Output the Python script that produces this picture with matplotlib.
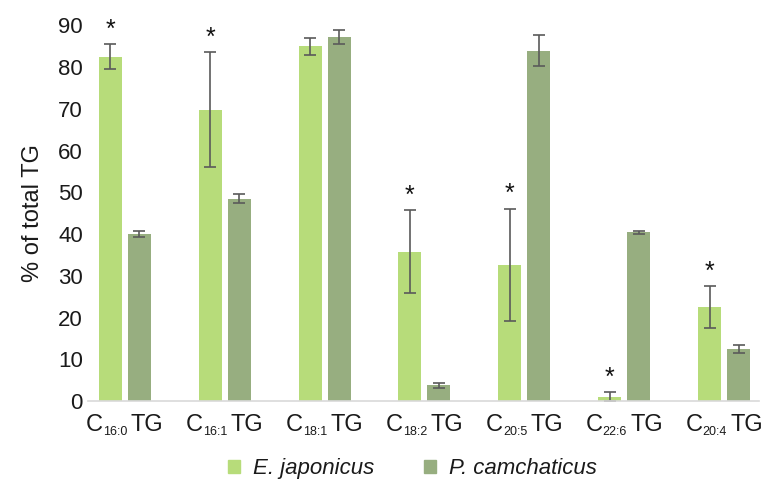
import numpy as np
import matplotlib
matplotlib.use("Agg")
import matplotlib.pyplot as plt
import matplotlib.transforms as mtransforms
from matplotlib.patches import Patch

plt.rcParams['font.family'] = ['Liberation Sans', 'DejaVu Sans']

groups = ['16:0', '16:1', '18:1', '18:2', '20:5', '22:6', '20:4']

ej_vals = [82.5, 69.8, 84.9, 35.8, 32.7, 1.1, 22.5]
ej_err = [3.0, 13.8, 2.0, 9.9, 13.4, 1.0, 5.0]
pc_vals = [40.0, 48.5, 87.1, 3.8, 83.9, 40.4, 12.5]
pc_err = [0.7, 1.0, 1.7, 0.6, 3.7, 0.3, 1.0]
signif = [True, True, False, True, True, True, True]

c_ej = '#b7dc7a'
c_pc = '#97ae80'
txt = '#1a1a1a'

fig = plt.figure(figsize=(7.63, 4.84), dpi=100)
ax = fig.add_axes([0.115, 0.171, 0.88, 0.777])

x = np.arange(len(groups))
w = 0.23
off = 0.145
ekw = dict(ecolor='#5a5a5a', elinewidth=1.2, capsize=4, capthick=1.2)
ax.bar(x - off, ej_vals, w, color=c_ej, yerr=ej_err, error_kw=ekw)
ax.bar(x + off, pc_vals, w, color=c_pc, yerr=pc_err, error_kw=ekw)

for i in range(len(x)):
    if signif[i]:
        ax.text(x[i] - off, ej_vals[i] + ej_err[i] + 0.6, '*', ha='center',
                va='bottom', fontsize=18, color='#111111')

ax.set_xlim(-0.37, 6.35)
ax.set_ylim(0, 90)
ax.set_yticks(range(0, 91, 10))
ax.set_xticks(x)
ax.set_xticklabels([])
ax.tick_params(axis='both', length=0, labelsize=16, colors=txt)
for s in ['top', 'right', 'left']:
    ax.spines[s].set_visible(False)
ax.spines['bottom'].set_color('#d9d9d9')
ax.spines['bottom'].set_linewidth(1.2)
ax.set_ylabel('% of total TG', fontsize=17, color=txt, labelpad=10)

# category labels: C + small subscript + TG, laid out by measured widths
renderer = fig.canvas.get_renderer()
base = ax.get_xaxis_transform()
for i, g in enumerate(groups):
    parts = [('C', 17, 0), (g, 9, -4), ('TG', 17, 0)]
    objs = []
    for s, fs, dy in parts:
        t = ax.text(x[i], 0, s, fontsize=fs, color=txt, ha='left', va='baseline',
                    transform=base)
        objs.append(t)
    widths = [t.get_window_extent(renderer).width for t in objs]
    gap = 3
    total = sum(widths) + gap
    pos = -total / 2
    for j, (t, (s, fs, dy)) in enumerate(zip(objs, parts)):
        t.set_transform(mtransforms.offset_copy(base, fig=fig, x=pos, y=-30 + dy, units='dots'))
        pos += widths[j] + (gap if j == 1 else 0)

handles = [Patch(color=c_ej, label='E. japonicus'), Patch(color=c_pc, label='P. camchaticus')]
leg = fig.legend(handles=handles, loc='center', bbox_to_anchor=(0.541, 0.031), ncol=2,
                 frameon=False, prop={'style': 'italic', 'size': 16},
                 handlelength=0.54, handleheight=0.54, columnspacing=2.25, handletextpad=0.58)
for t in leg.get_texts():
    t.set_color(txt)

fig.savefig('out.png', dpi=100)
